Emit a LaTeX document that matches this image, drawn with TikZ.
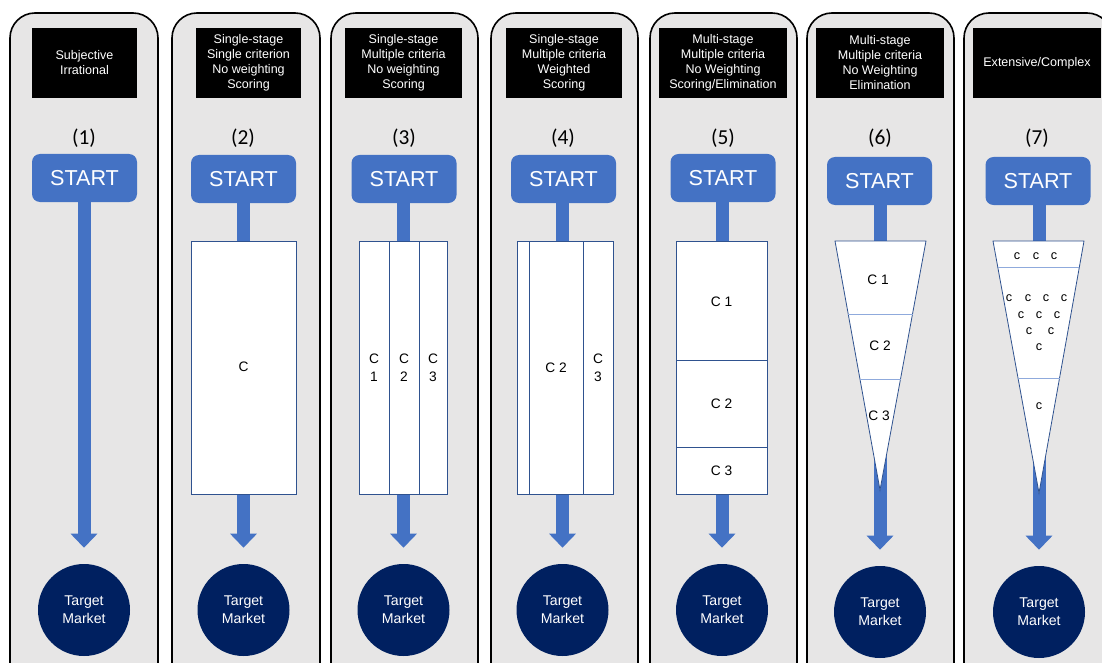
\documentclass[tikz,border=0pt]{standalone}
\usepackage{fontspec}
\setmainfont{Liberation Sans}
\newfontfamily\numfont{Carlito}
\usetikzlibrary{arrows.meta,calc}
\newlength\pxu \setlength\pxu{0.75pt}
\definecolor{panelgray}{HTML}{E7E6E6}
\definecolor{startblue}{HTML}{4472C4}
\definecolor{navy}{HTML}{002060}
\definecolor{edgeblue}{HTML}{2F528F}
\definecolor{lightedge}{HTML}{8FAADC}
\tikzset{
  panel/.style={draw=black, line width=1.2pt, fill=panelgray, rounded corners=25\pxu},
  headbox/.style={fill=black, text=white, inner sep=0pt, align=center, minimum height=70\pxu,
    font=\fontsize{9.4}{11.25}\selectfont},
  num/.style={font=\numfont\fontsize{16}{19}\selectfont, inner sep=0pt},
  startbox/.style={fill=startblue, rounded corners=8\pxu, minimum width=105\pxu, minimum height=48\pxu,
    text=white, inner sep=0pt, font=\fontsize{16.2}{19}\selectfont},
  target/.style={circle, fill=navy, minimum size=92\pxu, inner sep=0pt, text=white, align=center,
    font=\fontsize{10.6}{13.5}\selectfont},
  flow/.style={draw=startblue, line width=9.75pt, -{Triangle[width=19.5pt,length=10.5pt]}, shorten >=12pt},
  crit/.style={draw=edgeblue, fill=white, line width=0.6pt},
  divline/.style={draw=edgeblue, line width=0.6pt},
  lightline/.style={draw=lightedge, line width=0.6pt},
  clabel/.style={font=\fontsize{10.3}{13.5}\selectfont, align=center, inner sep=0pt},
  smallc/.style={font=\fontsize{9.5}{11}\selectfont, inner sep=0pt},
}
\begin{document}
\begin{tikzpicture}[x=0.75pt, y=-0.75pt]
\useasboundingbox (0,0) rectangle (1102,663);
\clip (0,0) rectangle (1102,663);
\fill[white] (0,0) rectangle (1102,663);

% panels
\draw[panel] (10,13) rectangle (158,700);
\draw[panel] (172,13) rectangle (320,700);
\draw[panel] (331,13) rectangle (478,700);
\draw[panel] (491,13) rectangle (638,700);
\draw[panel] (650,13) rectangle (797,700);
\draw[panel] (807,13) rectangle (954,700);
\draw[panel] (964,13) rectangle (1112,700);

% headers
\node[headbox, minimum width=105\pxu] (h1) at (84.5,63) {Subjective\\Irrational};
\node[headbox, minimum width=105\pxu] (h2) at (248.5,63) {Single-stage\\Single criterion\\No weighting\\Scoring};
\node[headbox, minimum width=117\pxu] (h3) at (403.5,63) {Single-stage\\Multiple criteria\\No weighting\\Scoring};
\node[headbox, minimum width=116\pxu] (h4) at (564,63) {Single-stage\\Multiple criteria\\Weighted\\Scoring};
\node[headbox, minimum width=128\pxu] (h5) at (723,63) {Multi-stage\\Multiple criteria\\No Weighting\\Scoring/Elimination};
\node[headbox, minimum width=128\pxu] (h6) at (880,63) {Multi-stage\\Multiple criteria\\No Weighting\\Elimination};
\node[headbox, minimum width=128\pxu] (h7) at (1037,63) {Extensive/Complex};

% numbers
\node[num] (n1) at (84,138) {(1)};
\node[num] (n2) at (243,138) {(2)};
\node[num] (n3) at (404,138) {(3)};
\node[num] (n4) at (563,138) {(4)};
\node[num] (n5) at (723,138) {(5)};
\node[num] (n6) at (880,138) {(6)};
\node[num] (n7) at (1037,138) {(7)};

% start boxes
\node[startbox] (s1) at (84.5,178) {START};
\node[startbox] (s2) at (243.5,179) {START};
\node[startbox] (s3) at (404,179) {START};
\node[startbox] (s4) at (563.5,179) {START};
\node[startbox] (s5) at (723,178) {START};
\node[startbox] (s6) at (879.5,181) {START};
\node[startbox] (s7) at (1038,181) {START};

% target markets
\node[target] (t1) at (84,610) {Target\\Market};
\node[target] (t2) at (243.5,610) {Target\\Market};
\node[target] (t3) at (403.5,610) {Target\\Market};
\node[target] (t4) at (562.5,610) {Target\\Market};
\node[target] (t5) at (722,610) {Target\\Market};
\node[target] (t6) at (880,612) {Target\\Market};
\node[target] (t7) at (1039,612) {Target\\Market};

% flows
\draw[flow] (s1.south -| t1) -- (t1.north);
\draw[flow] (s2.south -| t2) -- (t2.north);
\draw[flow] (s3.south -| t3) -- (t3.north);
\draw[flow] (s4.south -| t4) -- (t4.north);
\draw[flow] (s5.south -| t5) -- (t5.north);
\draw[flow] (s6.south -| t6) -- (t6.north);
\draw[flow] (s7.south -| t7) -- (t7.north);

% (2) single criterion
\draw[crit] (191,241) rectangle (296,494);
\node[clabel] (c2a) at (243.5,367) {C};

% (3) three criteria
\draw[crit] (359,241) rectangle (447,494);
\draw[divline] (389,241) -- (389,494);
\draw[divline] (419,241) -- (419,494);
\node[clabel] (c3a) at (374,368) {C\\1};
\node[clabel] (c3b) at (404,368) {C\\2};
\node[clabel] (c3c) at (433,368) {C\\3};

% (4) weighted
\draw[crit] (517,241) rectangle (613,494);
\draw[divline] (529,241) -- (529,494);
\draw[divline] (583,241) -- (583,494);
\node[clabel] (c4b) at (556,368) {C 2};
\node[clabel] (c4c) at (598,368) {C\\3};

% (5) multi-stage stacked
\draw[crit] (676,241) rectangle (767,494);
\draw[divline] (676,360) -- (767,360);
\draw[divline] (676,447) -- (767,447);
\node[clabel] (c5a) at (721.5,302) {C 1};
\node[clabel] (c5b) at (721.5,404) {C 2};
\node[clabel] (c5c) at (721.5,471) {C 3};

% (6) funnel
\coordinate (f6l) at (835,241);
\coordinate (f6r) at (926,241);
\coordinate (f6t) at (880,490);
\draw[crit] (f6l) -- (f6r) -- (f6t) -- cycle;
\draw[lightline] ($(f6l)!0.2932!(f6t)$) -- ($(f6r)!0.2932!(f6t)$);
\draw[lightline] ($(f6l)!0.5542!(f6t)$) -- ($(f6r)!0.5542!(f6t)$);
\node[clabel] (c6a) at (878,280) {C 1};
\node[clabel] (c6b) at (880,346) {C 2};
\node[clabel] (c6c) at (879,416) {C 3};

% (7) funnel
\coordinate (f7l) at (993,241);
\coordinate (f7r) at (1084,241);
\coordinate (f7t) at (1039,493);
\draw[crit] (f7l) -- (f7r) -- (f7t) -- cycle;
\draw[lightline] ($(f7l)!0.1032!(f7t)$) -- ($(f7r)!0.1032!(f7t)$);
\draw[lightline] ($(f7l)!0.5437!(f7t)$) -- ($(f7r)!0.5437!(f7t)$);
\node[smallc] (k1) at (1017,256) {c};
\node[smallc] (k2) at (1036,256) {c};
\node[smallc] (k3) at (1054,256) {c};
\node[smallc] (k4) at (1009,298) {c};
\node[smallc] (k5) at (1028,298) {c};
\node[smallc] (k6) at (1046,298) {c};
\node[smallc] (k7) at (1064,298) {c};
\node[smallc] (k8) at (1021,315) {c};
\node[smallc] (k9) at (1039,315) {c};
\node[smallc] (k10) at (1057,315) {c};
\node[smallc] (k11) at (1029,331) {c};
\node[smallc] (k12) at (1051,331) {c};
\node[smallc] (k13) at (1039,347) {c};
\node[smallc] (k14) at (1039,406) {c};
\end{tikzpicture}
\end{document}
